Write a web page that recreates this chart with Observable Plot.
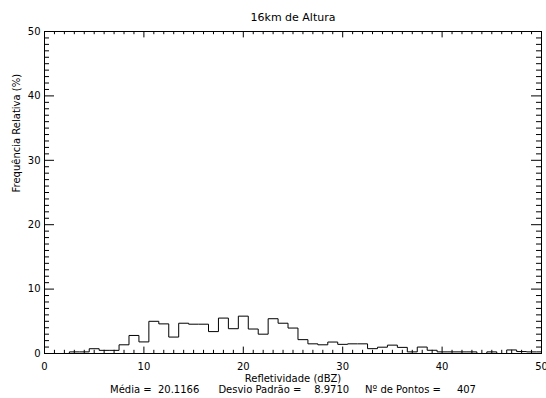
<!DOCTYPE html>
<html><head><meta charset="utf-8">
<script src="https://cdn.jsdelivr.net/npm/d3@7"></script>
<script src="https://cdn.jsdelivr.net/npm/@observablehq/plot@0.6"></script>
<style>body{margin:0;background:#fff} svg{display:block} text{white-space:pre}</style>
</head><body><div id="chart"></div>
<script>
const title = "16km de Altura";
const xLabel = "Refletividade (dBZ)";
const yLabel = "Frequência Relativa (%)";
const stats = "Média =  20.1166      Desvio Padrão =    8.9710     Nº de Pontos =     407";
const dbz = [0,1,2,3,4,5,6,7,8,9,10,11,12,13,14,15,16,17,18,19,20,21,22,23,24,25,26,27,28,29,30,31,32,33,34,35,36,37,38,39,40,41,42,43,44,45,46,47,48,49,50];
const freq = [0,0,0,0.25,0.25,0.74,0.49,0.49,1.35,2.8,1.8,5.0,4.6,2.55,4.7,4.55,4.55,3.4,5.5,3.85,5.8,3.8,3.0,5.4,4.7,3.95,2.15,1.5,1.35,1.78,1.42,1.5,1.5,0.75,0.98,1.3,0.95,0.25,1.0,0.5,0.25,0.25,0.25,0.25,0,0.25,0,0.55,0.3,0.25,0.25];
const xTicks = [0,10,20,30,40,50];
const yTicks = [0,10,20,30,40,50];
const xMinor = d3.range(0, 51).filter(v => v % 10 !== 0);
const yMinor = d3.range(0, 51).filter(v => v % 10 !== 0);

const data = dbz.map((x, i) => ({x, y: freq[i]}));

const W = 546, H = 398, mL = 44, mR = 5, mT = 31, mB = 45;
const iw = W - mL - mR, ih = H - mT - mB;
const font = "DejaVu Sans";
const ink = "#000";

const chart = Plot.plot({
  width: W, height: H,
  marginLeft: mL, marginRight: mR, marginTop: mT, marginBottom: mB,
  style: {fontFamily: font, background: "#fff", overflow: "visible"},
  x: {domain: [0, 50], axis: null},
  y: {domain: [0, 50], axis: null},
  marks: [
    Plot.frame({stroke: ink, strokeWidth: 1}),
    Plot.tickX(xTicks, {x: d => d, insetTop: ih - 6.4, stroke: ink}),
    Plot.tickX(xTicks, {x: d => d, insetBottom: ih - 6.4, stroke: ink}),
    Plot.tickX(xMinor, {x: d => d, insetTop: ih - 3.2, stroke: ink}),
    Plot.tickX(xMinor, {x: d => d, insetBottom: ih - 3.2, stroke: ink}),
    Plot.tickY(yTicks, {y: d => d, insetRight: iw - 10, stroke: ink}),
    Plot.tickY(yTicks, {y: d => d, insetLeft: iw - 10, stroke: ink}),
    Plot.tickY(yMinor, {y: d => d, insetRight: iw - 5, stroke: ink}),
    Plot.tickY(yMinor, {y: d => d, insetLeft: iw - 5, stroke: ink}),
    Plot.line(data, {x: "x", y: "y", curve: "step", stroke: ink, strokeWidth: 1}),
    Plot.text(xTicks, {x: d => d, frameAnchor: "bottom", dy: 16, text: d => String(d), fontSize: 10, fill: ink}),
    Plot.text(yTicks, {y: d => d, frameAnchor: "left", dx: -4, textAnchor: "end", text: d => String(d), fontSize: 10, fill: ink}),
    Plot.text([title], {frameAnchor: "top", dy: -18, text: d => d, fontSize: 11, fill: ink}),
    Plot.text([yLabel], {frameAnchor: "left", dx: -28, rotate: -90, text: d => d, fontSize: 10, fill: ink}),
    Plot.text([xLabel], {frameAnchor: "bottom", dy: 28, text: d => d, fontSize: 10, fill: ink}),
    Plot.text([stats], {frameAnchor: "bottom", dy: 39, text: d => d, fontSize: 10, fill: ink})
  ]
});
document.getElementById("chart").appendChild(chart);
</script>
</body></html>
